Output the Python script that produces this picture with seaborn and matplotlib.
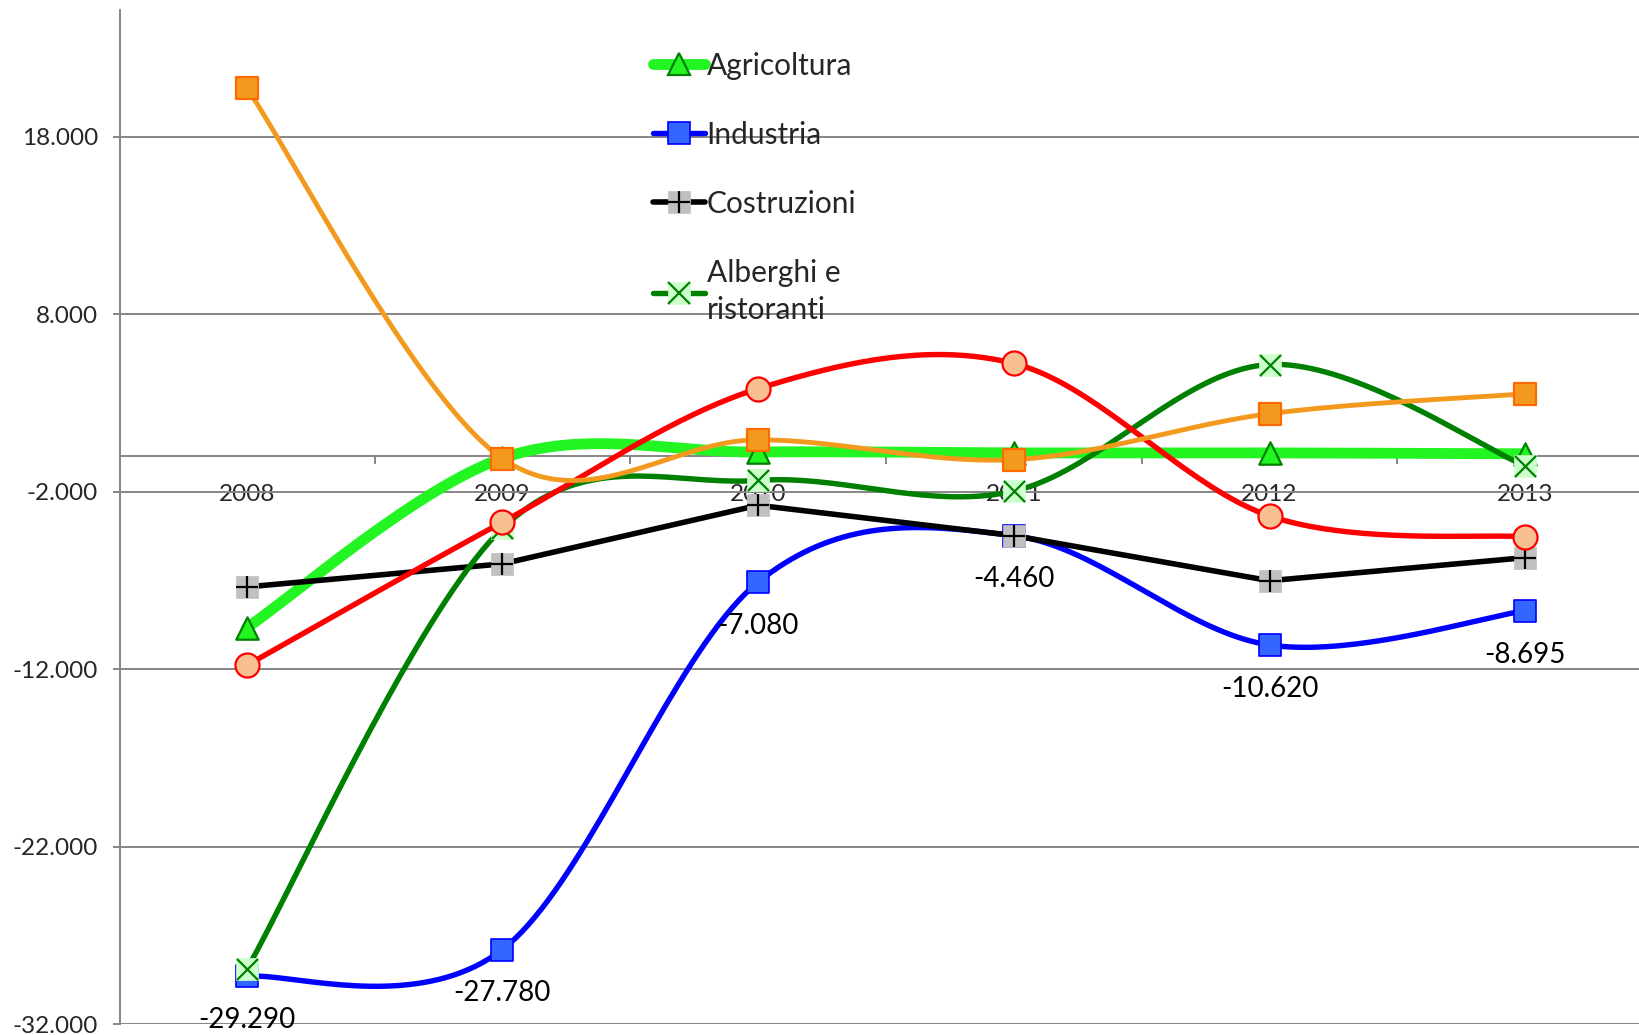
import numpy as np
import pandas as pd
import seaborn as sns
import matplotlib.pyplot as plt
from matplotlib.lines import Line2D

# dati (variazioni annue)
anni = ['2008', '2009', '2010', '2011', '2012', '2013']
agricoltura = [-9650, -100, 250, 200, 200, 150]
industria = [-29290, -27780, -7080, -4460, -10620, -8695]
costruzioni = [-7350, -6050, -2750, -4460, -7000, -5700]
alberghi = [-28900, -4050, -1350, -1950, 5180, -530]
commercio = [-11770, -3700, 3820, 5240, -3350, -4530]
servizi = [20770, -120, 940, -180, 2410, 3530]
etichette_industria = ['-29.290', '-27.780', '-7.080', '-4.460', '-10.620', '-8.695']
y_ticks = [-32000, -22000, -12000, -2000, 8000, 18000]

sns.set_style('white')
plt.rcParams['font.family'] = ['Lato', 'DejaVu Sans']
plt.rcParams['axes.unicode_minus'] = False


def smooth(xs, ys, n=40):
    # curva smussata stile Excel (bezier tipo Catmull-Rom)
    pts = np.column_stack([xs, ys]).astype(float)
    ext = np.vstack([pts[0], pts, pts[-1]])
    out = []
    for i in range(len(pts) - 1):
        p0, p1, p2, p3 = ext[i], ext[i + 1], ext[i + 2], ext[i + 3]
        b1 = p1 + (p2 - p0) / 6
        b2 = p2 - (p3 - p1) / 6
        t = np.linspace(0, 1, n)[:, None]
        seg = (1 - t) ** 3 * p1 + 3 * (1 - t) ** 2 * t * b1 + 3 * (1 - t) * t ** 2 * b2 + t ** 3 * p2
        out.append(seg if i == 0 else seg[1:])
    return np.vstack(out)


fig = plt.figure(figsize=(16.39, 10.35), dpi=100)
ax = fig.add_axes([0.0733, 0.0102, 0.9267, 0.9797])
x = np.arange(len(anni))

serie = [
    ('Agricoltura', agricoltura, True, dict(color='#22F522', lw=7.8)),
    ('Industria', industria, True, dict(color='#0000FF', lw=3.9)),
    ('Costruzioni', costruzioni, False, dict(color='black', lw=4.0)),
    ('Alberghi e\nristoranti', alberghi, True, dict(color='#008000', lw=3.9)),
    ('Commercio', commercio, True, dict(color='#FF0000', lw=3.9)),
    ('Servizi', servizi, True, dict(color='#F39A1E', lw=3.5)),
]

markers = {
    'Agricoltura': [dict(marker='^', s=260, c='#22F522', edgecolors='#008000', linewidths=1.6)],
    'Industria': [dict(marker='s', s=260, c='#3366FF', edgecolors='#0000FF', linewidths=1.2)],
    'Costruzioni': [dict(marker='s', s=260, c='#C0C0C0', edgecolors='#C0C0C0', linewidths=0.5),
                    dict(marker='+', s=260, c='black', linewidths=1.6)],
    'Alberghi e\nristoranti': [dict(marker='s', s=260, c='#CCFFCC', edgecolors='#CCFFCC', linewidths=0.5),
                               dict(marker='x', s=230, c='#008000', linewidths=1.6)],
    'Commercio': [dict(marker='o', s=300, c='#F8C090', edgecolors='#FF0000', linewidths=1.6)],
    'Servizi': [dict(marker='s', s=270, c='#F39A1E', edgecolors='#FF6A00', linewidths=1.6)],
}

handles = []
for i, (nome, vals, liscia, st) in enumerate(serie):
    z = 3 + i
    if liscia:
        curva = smooth(x, vals)
        df = pd.DataFrame({'x': curva[:, 0], 'y': curva[:, 1]})
    else:
        df = pd.DataFrame({'x': x, 'y': vals})
    sns.lineplot(data=df, x='x', y='y', sort=False, estimator=None, ax=ax,
                 color=st['color'], lw=st['lw'], zorder=z, solid_capstyle='round')
    for m in markers[nome]:
        ax.scatter(x, vals, zorder=z + 0.5, **m)
    if i < 4:
        parts = [Line2D([], [], color=st['color'], lw=st['lw'], solid_capstyle='round')]
        for m in markers[nome]:
            fc = m['c']
            ec = m.get('edgecolors', m['c'])
            parts.append(Line2D([], [], ls='none', marker=m['marker'], markersize=np.sqrt(m['s']),
                                markerfacecolor=fc, markeredgecolor=ec,
                                markeredgewidth=m['linewidths']))
        handles.append((tuple(parts), nome))

# etichette dati Industria
for xi, v, lab in zip(x, industria, etichette_industria):
    ax.annotate(lab, (xi, v), xytext=(0, -31.5), textcoords='offset points',
                ha='center', va='center', fontsize=20, color='black', zorder=20)

ax.set_xlim(-0.495, 5.445)
ax.set_ylim(-32000, 25128)
ax.set_yticks(y_ticks)
ax.set_yticklabels([f'{v:,.0f}'.replace(',', '.') for v in y_ticks])
ax.set_xticks(x)
ax.set_xticklabels(anni)
ax.set_xticks(x[:-1] + 0.5, minor=True)
ax.set_xlabel('')
ax.set_ylabel('')

grigio = '#868686'
ax.grid(axis='y', color=grigio, lw=1.4, zorder=0)
ax.set_axisbelow(True)
for s in ['top', 'right']:
    ax.spines[s].set_visible(False)
ax.spines['left'].set_color(grigio)
ax.spines['left'].set_linewidth(1.4)
ax.spines['bottom'].set_position(('data', 0))
ax.spines['bottom'].set_color(grigio)
ax.spines['bottom'].set_linewidth(1.4)
ax.tick_params(axis='y', which='major', direction='out', length=5, width=1.4, color=grigio,
               pad=11, left=True, labelsize=17.5)
ax.tick_params(axis='x', which='major', length=0, pad=19.5, labelsize=17.5)
ax.tick_params(axis='x', which='minor', direction='out', length=6, width=1.4, color=grigio, bottom=True)

leg = ax.legend([h for h, _ in handles], [n for _, n in handles], loc='upper left',
                bbox_to_anchor=(0.333, 0.986), frameon=False, fontsize=21.5,
                handlelength=1.75, handletextpad=0.05, labelspacing=1.38)
for t in leg.get_texts():
    t.set_linespacing(1.4)

fig.savefig('out.png', dpi=100)
